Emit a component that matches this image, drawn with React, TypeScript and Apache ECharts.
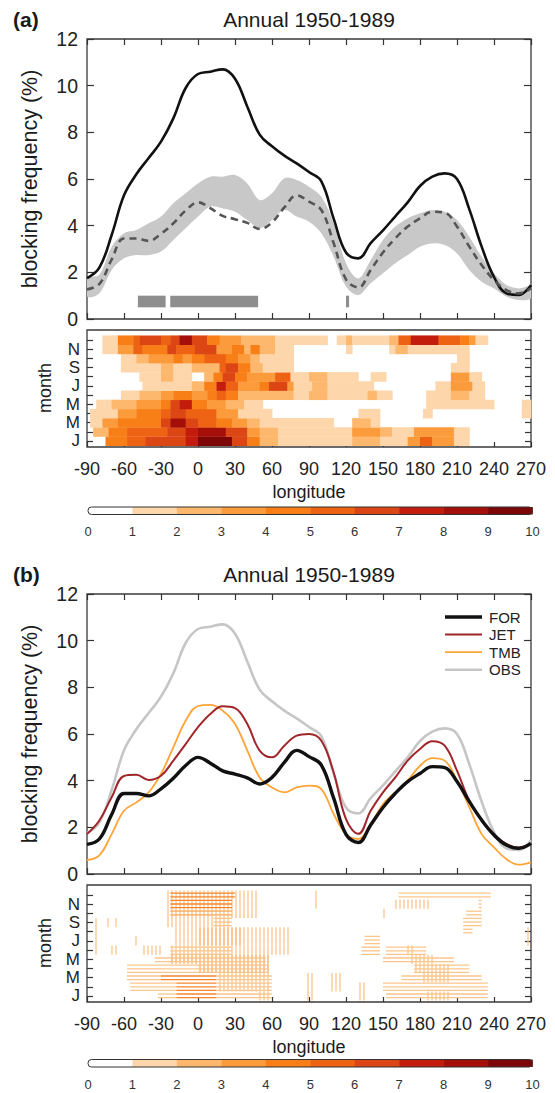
import React, { useEffect, useRef } from 'react';
import * as echarts from 'echarts';

const FONT = '"Liberation Sans", Arial, Helvetica, sans-serif';

// longitude sample points (deg)
const LON = [-90,-80,-70,-60,-50,-40,-30,-20,-10,0,10,20,30,40,50,60,70,80,90,100,110,120,130,140,150,160,170,180,190,200,210,220,230,240,250,260,270];

// observed blocking frequency (%)
const OBS = [1.75,2.2,3.6,5.3,6.2,6.9,7.6,8.6,9.9,10.5,10.6,10.7,10.3,9.1,7.9,7.4,7.0,6.67,6.3,5.9,4.3,2.85,2.6,3.25,3.8,4.4,5.0,5.7,6.1,6.24,6.0,4.7,3.1,1.8,1.1,1.03,1.45];
// FOR experiment
const FOR = [1.27,1.5,2.55,3.45,3.45,3.35,3.65,4.1,4.65,5.0,4.75,4.42,4.28,4.12,3.86,4.14,4.78,5.3,5.03,4.67,3.25,1.7,1.35,2.1,2.85,3.46,3.96,4.31,4.6,4.56,3.96,3.1,2.31,1.67,1.24,1.1,1.31];
// spread band of FOR
const BAND_HI = [1.74,1.9,3.1,3.67,3.81,4.1,4.39,4.96,5.39,5.81,6.1,6.1,6.17,5.81,5.1,5.39,6.03,5.96,5.67,5.24,4.1,2.39,1.74,2.53,3.39,3.96,4.31,4.53,4.67,4.6,4.24,3.53,2.67,1.96,1.46,1.31,1.39];
const BAND_LO = [0.96,1.1,2.1,2.6,2.74,2.74,2.89,3.39,3.89,4.39,4.81,4.74,4.6,4.24,3.89,4.24,4.67,4.39,4.17,3.67,2.67,1.39,1.03,1.53,1.96,2.39,2.74,3.1,3.24,3.17,2.81,2.1,1.6,1.31,0.96,0.81,0.89];
// JET experiment
const JET = [1.71,2.29,3.29,4.2,4.25,4.03,4.21,4.86,5.57,6.29,6.86,7.19,7.11,6.43,5.29,5.0,5.5,5.93,6.0,5.71,4.35,2.35,1.72,2.71,3.5,4.14,4.86,5.36,5.69,5.5,4.43,3.14,2.29,1.71,1.29,1.14,1.29];
// TMB experiment
const TMB = [0.6,0.8,1.71,2.71,3.07,3.5,4.29,5.43,6.57,7.2,7.25,7.0,6.43,5.29,4.14,3.71,3.5,3.71,3.79,3.64,2.57,1.71,1.5,2.14,3.0,3.5,4.0,4.64,4.97,4.86,4.0,2.86,1.71,1.14,0.64,0.4,0.5];

// significant longitude ranges (bars)
const SIG = [[-48.75,-26.25],[-22.5,48.75],[120,122.5]];

const MONTHS = ['J','F','M','A','M','J','J','A','S','O','N','D'];
const MONTH_TICKS = [1,2,3,4,5,6,7,8,9,10,11,12];
const MONTH_LABELS = [1,3,5,7,9,11];
const CB_TICKS = [0,1,2,3,4,5,6,7,8,9,10];
const HEAT_COLORS = ['#FFFFFF','#FDD6AB','#FDB86E','#FB9B3B','#F87F17','#EE6213','#DC4614','#C31C0C','#A50F0A','#7D0606'];
const HATCH_COLORS = ['#FFFFFF','#FCC58A','#FAA858','#F5862C'];

const LEGEND_NAMES = ['FOR','JET','TMB','OBS'];
const LEGEND_COLORS = ['#111111','#A0262A','#FFA437','#C6C6C6'];
const LEGEND_WIDTHS = [3.4,2,1.8,2.6];

// monthly blocking frequency per longitude range (Jan..Dec): [lonStart, lonEnd, level]
const HEAT_A = [
  [[-75,-57.5,4],[-57.5,-42.5,5],[-42.5,-10,6],[-10,0,7],[0,27.5,9],[27.5,40,6],[40,50,4],[50,65,2],[65,125,1],[125,147.5,2],[147.5,170,1],[170,180,3],[180,190,5],[190,207.5,3],[207.5,220,1]],
  [[-85,-72.5,2],[-72.5,-57.5,4],[-57.5,-25,5],[-25,-10,6],[-10,0,7],[0,22.5,8],[22.5,40,6],[40,50,3],[50,65,2],[65,125,1],[125,147.5,3],[147.5,157.5,2],[157.5,175,1],[175,207.5,3],[207.5,220,1]],
  [[-87.5,-77.5,1],[-77.5,-65,3],[-65,-30,4],[-30,-22.5,6],[-22.5,-10,8],[-10,0,6],[0,15,5],[15,27.5,4],[27.5,40,3],[40,50,2],[50,110,1],[125,140,2],[140,147.5,1]],
  [[-87.5,-65,1],[-65,-50,3],[-50,-30,4],[-30,-22.5,5],[-22.5,-10,6],[-10,15,5],[15,32.5,3],[32.5,60,1],[130,147.5,1],[182.5,190,1],[262.5,270,1]],
  [[-82.5,-70,1],[-70,-50,2],[-50,-30,3],[-30,-22.5,4],[-22.5,-15,6],[-15,-5,7],[-5,7.5,4],[7.5,22.5,3],[22.5,37.5,2],[37.5,52.5,1],[185,240,1],[262.5,270,1]],
  [[-62.5,-47.5,1],[-47.5,-30,2],[-30,-20,3],[-20,-5,4],[-5,7.5,3],[7.5,15,4],[15,22.5,5],[22.5,32.5,4],[32.5,77.5,2],[77.5,90,1],[90,105,2],[105,137.5,1],[137.5,145,2],[145,157.5,1],[185,205,1],[205,220,2],[220,232.5,1]],
  [[-45,-5,1],[-5,5,2],[5,15,4],[15,22.5,7],[22.5,32.5,5],[32.5,50,3],[50,57.5,4],[57.5,72.5,6],[72.5,77.5,3],[77.5,92.5,1],[92.5,105,2],[105,142.5,1],[192.5,205,1],[205,222.5,3],[222.5,232.5,1]],
  [[-47.5,-30,1],[-30,-20,2],[-20,-5,1],[5,12.5,2],[12.5,20,4],[20,30,6],[30,40,4],[40,62.5,3],[62.5,75,5],[75,90,1],[90,105,2],[105,130,1],[140,152.5,1],[205,220,3],[220,230,1]],
  [[-62.5,-30,1],[-30,-20,2],[-20,-5,1],[-5,17.5,2],[17.5,22.5,5],[22.5,32.5,6],[32.5,42.5,4],[42.5,52.5,2],[52.5,77.5,1],[205,220,1]],
  [[-62.5,-50,1],[-50,-40,2],[-40,-20,3],[-20,-12.5,4],[-12.5,-5,3],[-5,5,4],[5,22.5,5],[22.5,32.5,4],[32.5,42.5,3],[42.5,50,2],[50,77.5,1],[210,220,1]],
  [[-77.5,-65,1],[-65,-52.5,3],[-52.5,-45,5],[-45,-25,4],[-25,-17.5,6],[-17.5,-2.5,5],[-2.5,15,6],[15,27.5,3],[27.5,37.5,4],[37.5,42.5,2],[42.5,50,4],[50,62.5,2],[62.5,77.5,1],[120,125,1],[155,160,1],[160,170,2],[170,220,1]],
  [[-77.5,-65,1],[-65,-52.5,4],[-52.5,-47.5,5],[-47.5,-30,6],[-30,-22.5,5],[-22.5,-15,6],[-15,-5,8],[-5,7.5,6],[7.5,17.5,4],[17.5,35,3],[35,62.5,2],[62.5,105,1],[112.5,120,1],[120,125,2],[125,155,1],[155,162.5,2],[162.5,172.5,5],[172.5,195,7],[195,212.5,5],[212.5,220,4],[220,225,3],[225,235,1]],
];

// hatched significance (Jan..Dec): vertical and horizontal hatching
const HATCH_V = [
  [[50,60,1],[87.5,92.5,1],[130,137.5,1],[185,205,1]],
  [[17.5,60,1],[87.5,92.5,1],[107.5,117.5,1],[130,137.5,1]],
  [[17.5,60,1],[87.5,92.5,1],[107.5,117.5,1],[182.5,205,1]],
  [[0,57.5,2],[175,205,1]],
  [[-72.5,-70,1],[-22.5,57.5,2],[172.5,190,1]],
  [[-85,-82.5,1],[-72.5,-65,1],[-45,-30,1],[-22.5,75,1],[170,175,1]],
  [[-85,-82.5,1],[-52.5,-47.5,1],[-20,0,1],[0,35,2],[35,75,1],[265,270,1]],
  [[-85,-82.5,1],[-20,0,1],[0,35,2],[35,75,1],[265,270,1]],
  [[-85,-82.5,1],[-75,-72.5,1],[-67.5,-65,1],[-25,27.5,1]],
  [[-25,47.5,1],[150,152.5,1]],
  [[-27.5,47.5,1],[95,97.5,1],[160,187.5,1]],
  [[-50,-47.5,1],[-27.5,47.5,1],[95,97.5,1]],
];
const HATCH_H = [
  [[-32.5,-17.5,1],[-17.5,15,3],[15,60,1],[152.5,235,1]],
  [[-55,-17.5,1],[-17.5,15,3],[15,60,1],[150,235,1]],
  [[-57.5,-30,1],[-30,15,3],[15,60,1],[165,230,1]],
  [[-57.5,57.5,1],[175,220,1]],
  [[-35,55,1],[150,207.5,1]],
  [[-22.5,27.5,1],[132.5,147.5,1],[152.5,185,1]],
  [[135,147.5,1]],
  [[215,222.5,1]],
  [[12.5,27.5,1],[215,230,1]],
  [[-22.5,27.5,2],[217.5,230,1]],
  [[-22.5,27.5,3],[227.5,230,1]],
  [[-22.5,30,3],[162.5,237.5,1]],
];

const flat = (rows: number[][][]) => rows.flatMap((row, mi) => row.map(([a, b, l]) => [a, b, mi + 1, l]));
const pairs = (ys: number[]) => LON.map((x, i) => [x, ys[i]]);

const GL = 87, GW = 444;
const GRIDS = [
  { left: GL, top: 39, width: GW, height: 280 },
  { left: GL, top: 330, width: GW, height: 117 },
  { left: GL, top: 594, width: GW, height: 280 },
  { left: GL, top: 885, width: GW, height: 117 },
];

const tickStyle = { color: '#333', width: 1.2 };
const noLine = { show: false, onZero: false };

function lineX(gridIndex: number, position: string) {
  return {
    type: 'value', gridIndex, position, min: -90, max: 270, interval: 30,
    axisLine: noLine, splitLine: { show: false },
    axisTick: { show: true, inside: true, length: 6, lineStyle: tickStyle },
    axisLabel: { show: false },
  };
}
function heatX(gridIndex: number) {
  return {
    type: 'value', gridIndex, position: 'bottom', min: -90, max: 270, interval: 30,
    axisLine: noLine, splitLine: { show: false },
    axisTick: { show: true, inside: true, length: 5, lineStyle: tickStyle },
    axisLabel: { show: true, fontSize: 18, fontFamily: FONT, color: '#222', margin: 13 },
  };
}
function lineY(gridIndex: number, position: string, labels: boolean) {
  return {
    type: 'value', gridIndex, position, min: 0, max: 12, interval: 2,
    axisLine: noLine, splitLine: { show: false },
    axisTick: { show: true, inside: true, length: 7, lineStyle: tickStyle },
    axisLabel: { show: labels, fontSize: 19.5, fontFamily: FONT, color: '#222', margin: 9 },
  };
}
function heatY(gridIndex: number, position: string, labels: boolean) {
  return {
    type: 'value', gridIndex, position, min: 0.345, max: 13.09,
    axisLine: noLine, splitLine: { show: false },
    axisTick: { show: true, inside: true, length: 6, lineStyle: tickStyle, customValues: MONTH_TICKS },
    axisLabel: {
      show: labels, fontSize: 17, fontFamily: FONT, color: '#222', margin: 7,
      customValues: MONTH_LABELS,
      formatter: (v: number) => MONTHS[Math.round(v) - 1] || '',
    },
  };
}

function heatRender(params: any, api: any) {
  const a = api.value(0), b = api.value(1), m = api.value(2), l = api.value(3);
  const p1 = api.coord([a, m + 0.5]);
  const p2 = api.coord([b, m - 0.5]);
  return {
    type: 'rect',
    shape: { x: p1[0], y: p1[1], width: p2[0] - p1[0] + 0.4, height: p2[1] - p1[1] + 0.4 },
    style: { fill: HEAT_COLORS[l] },
  };
}

function hatchRender(vertical: boolean) {
  return (params: any, api: any) => {
    const cs = params.coordSys;
    const a = api.value(0), b = api.value(1), m = api.value(2), l = api.value(3);
    const p1 = api.coord([a, m + 0.5]);
    const p2 = api.coord([b, m - 0.5]);
    const color = HATCH_COLORS[l];
    const children: any[] = [];
    if (vertical) {
      const step = 4;
      for (let x = cs.x + Math.ceil((p1[0] - cs.x - 1) / step) * step + 1; x < p2[0]; x += step) {
        children.push({ type: 'line', shape: { x1: x, y1: p1[1], x2: x, y2: p2[1] }, style: { stroke: color, lineWidth: 1.3 } });
      }
    } else {
      const step = 3.6;
      for (let y = cs.y + Math.ceil((p1[1] - cs.y - 1) / step) * step + 1; y < p2[1]; y += step) {
        children.push({ type: 'line', shape: { x1: p1[0], y1: y, x2: p2[0], y2: y }, style: { stroke: color, lineWidth: 1.3 } });
      }
    }
    return { type: 'group', children };
  };
}

function sigRender(params: any, api: any) {
  const a = api.value(0), b = api.value(1);
  const p1 = api.coord([a, 1.0]);
  const p2 = api.coord([b, 0.5]);
  return { type: 'rect', shape: { x: p1[0], y: p1[1], width: p2[0] - p1[0], height: p2[1] - p1[1] }, style: { fill: '#8E8E8E' } };
}

function bandRender(params: any, api: any) {
  if (params.dataIndex !== 0) return null;
  const up = LON.map((x, i) => api.coord([x, BAND_HI[i]]));
  const lo = LON.map((x, i) => api.coord([x, BAND_LO[i]])).reverse();
  return {
    type: 'polygon',
    shape: { points: up.concat(lo), smooth: 0.35 },
    style: { fill: '#C8C8C8', stroke: 'none' },
  };
}

function colorbar(y: number) {
  const x0 = 88, w = 444.5, h = 7.5;
  const seg = w / (CB_TICKS.length - 1);
  const children: any[] = [];
  for (let i = 0; i < CB_TICKS.length - 1; i++) {
    children.push({ type: 'rect', shape: { x: x0 + i * seg, y, width: seg + 0.3, height: h }, style: { fill: HEAT_COLORS[i] } });
  }
  children.push({ type: 'rect', shape: { x: x0, y, width: w, height: h, r: 3.5 }, style: { fill: 'none', stroke: '#333', lineWidth: 1 } });
  CB_TICKS.forEach((t, i) => {
    children.push({ type: 'text', x: x0 + i * seg, y: y + h / 2 + 21, style: { text: String(t), fontSize: 13, fontFamily: FONT, fill: '#333', align: 'center', verticalAlign: 'middle' } });
  });
  return { type: 'group', children };
}

function legend(x: number, y: number) {
  const children: any[] = [];
  LEGEND_NAMES.forEach((n, i) => {
    const yy = y + i * 17.6;
    children.push({ type: 'line', shape: { x1: x, y1: yy, x2: x + 37, y2: yy }, style: { stroke: LEGEND_COLORS[i], lineWidth: LEGEND_WIDTHS[i] } });
    children.push({ type: 'text', x: x + 44, y: yy, style: { text: n, fontSize: 15, fontFamily: FONT, fill: '#222', align: 'left', verticalAlign: 'middle' } });
  });
  return { type: 'group', children };
}

function txt(text: string, x: number, y: number, size: number, opts: any = {}) {
  return {
    type: 'text', x, y, rotation: opts.rotation || 0,
    style: { text, fontSize: size, fontFamily: FONT, fontWeight: opts.bold ? 'bold' : 'normal', fill: '#1a1a1a', align: opts.align || 'center', verticalAlign: 'middle' },
  };
}

const option: any = {
  animation: false,
  backgroundColor: '#ffffff',
  grid: GRIDS.map((g) => ({ ...g, show: true, borderColor: '#3a3a3a', borderWidth: 1.3, backgroundColor: 'transparent' })),
  xAxis: [lineX(0, 'bottom'), lineX(0, 'top'), heatX(1), lineX(2, 'bottom'), lineX(2, 'top'), heatX(3)],
  yAxis: [lineY(0, 'left', true), lineY(0, 'right', false), heatY(1, 'left', true), heatY(1, 'right', false), lineY(2, 'left', true), lineY(2, 'right', false), heatY(3, 'left', true), heatY(3, 'right', false)],
  series: [
    // panel (a)
    { name: 'band', type: 'custom', xAxisIndex: 0, yAxisIndex: 0, data: [[LON[0], BAND_HI[0]]], renderItem: bandRender, clip: true, silent: true },
    { name: 'sig', type: 'custom', xAxisIndex: 0, yAxisIndex: 0, data: SIG, encode: { x: [0, 1] }, renderItem: sigRender, silent: true },
    { name: 'OBS_a', type: 'line', xAxisIndex: 0, yAxisIndex: 0, data: pairs(OBS), symbol: 'none', smooth: 0.4, lineStyle: { color: '#111', width: 2.6 } },
    { name: 'FOR_a', type: 'line', xAxisIndex: 0, yAxisIndex: 0, data: pairs(FOR), symbol: 'none', smooth: 0.4, lineStyle: { color: '#555', width: 2.6, type: [7, 5] } },
    { name: 'heatA', type: 'custom', xAxisIndex: 2, yAxisIndex: 2, data: flat(HEAT_A), encode: { x: [0, 1], y: 2 }, renderItem: heatRender, silent: true },
    // panel (b)
    { name: 'OBS', type: 'line', xAxisIndex: 3, yAxisIndex: 4, data: pairs(OBS), symbol: 'none', smooth: 0.4, lineStyle: { color: LEGEND_COLORS[3], width: LEGEND_WIDTHS[3] } },
    { name: 'TMB', type: 'line', xAxisIndex: 3, yAxisIndex: 4, data: pairs(TMB), symbol: 'none', smooth: 0.4, lineStyle: { color: LEGEND_COLORS[2], width: LEGEND_WIDTHS[2] } },
    { name: 'JET', type: 'line', xAxisIndex: 3, yAxisIndex: 4, data: pairs(JET), symbol: 'none', smooth: 0.4, lineStyle: { color: LEGEND_COLORS[1], width: LEGEND_WIDTHS[1] } },
    { name: 'FOR', type: 'line', xAxisIndex: 3, yAxisIndex: 4, data: pairs(FOR), symbol: 'none', smooth: 0.4, lineStyle: { color: LEGEND_COLORS[0], width: LEGEND_WIDTHS[0] } },
    { name: 'hatchV', type: 'custom', xAxisIndex: 5, yAxisIndex: 6, data: flat(HATCH_V), encode: { x: [0, 1], y: 2 }, renderItem: hatchRender(true), silent: true },
    { name: 'hatchH', type: 'custom', xAxisIndex: 5, yAxisIndex: 6, data: flat(HATCH_H), encode: { x: [0, 1], y: 2 }, renderItem: hatchRender(false), silent: true },
  ],
  graphic: [
    txt('(a)', 13, 19, 21, { bold: true, align: 'left' }),
    txt('Annual 1950-1989', 309, 19, 21),
    txt('blocking frequency (%)', 30, 179, 21.5, { rotation: Math.PI / 2 }),
    txt('month', 45, 388, 18, { rotation: Math.PI / 2 }),
    txt('longitude', 309, 492, 18),
    colorbar(507),
    txt('(b)', 13, 574, 21, { bold: true, align: 'left' }),
    txt('Annual 1950-1989', 309, 574, 21),
    txt('blocking frequency (%)', 30, 734, 21.5, { rotation: Math.PI / 2 }),
    txt('month', 45, 943, 18, { rotation: Math.PI / 2 }),
    txt('longitude', 309, 1047, 18),
    colorbar(1059.5),
    legend(445, 617),
  ],
};

export default function App() {
  const ref = useRef<HTMLDivElement>(null);
  useEffect(() => {
    const chart = echarts.init(ref.current!, null, { renderer: 'svg' });
    chart.setOption(option);
    return () => chart.dispose();
  }, []);
  return <div ref={ref} style={{ position: 'absolute', left: 0, top: 0, width: 555, height: 1093, background: '#fff' }} />;
}
